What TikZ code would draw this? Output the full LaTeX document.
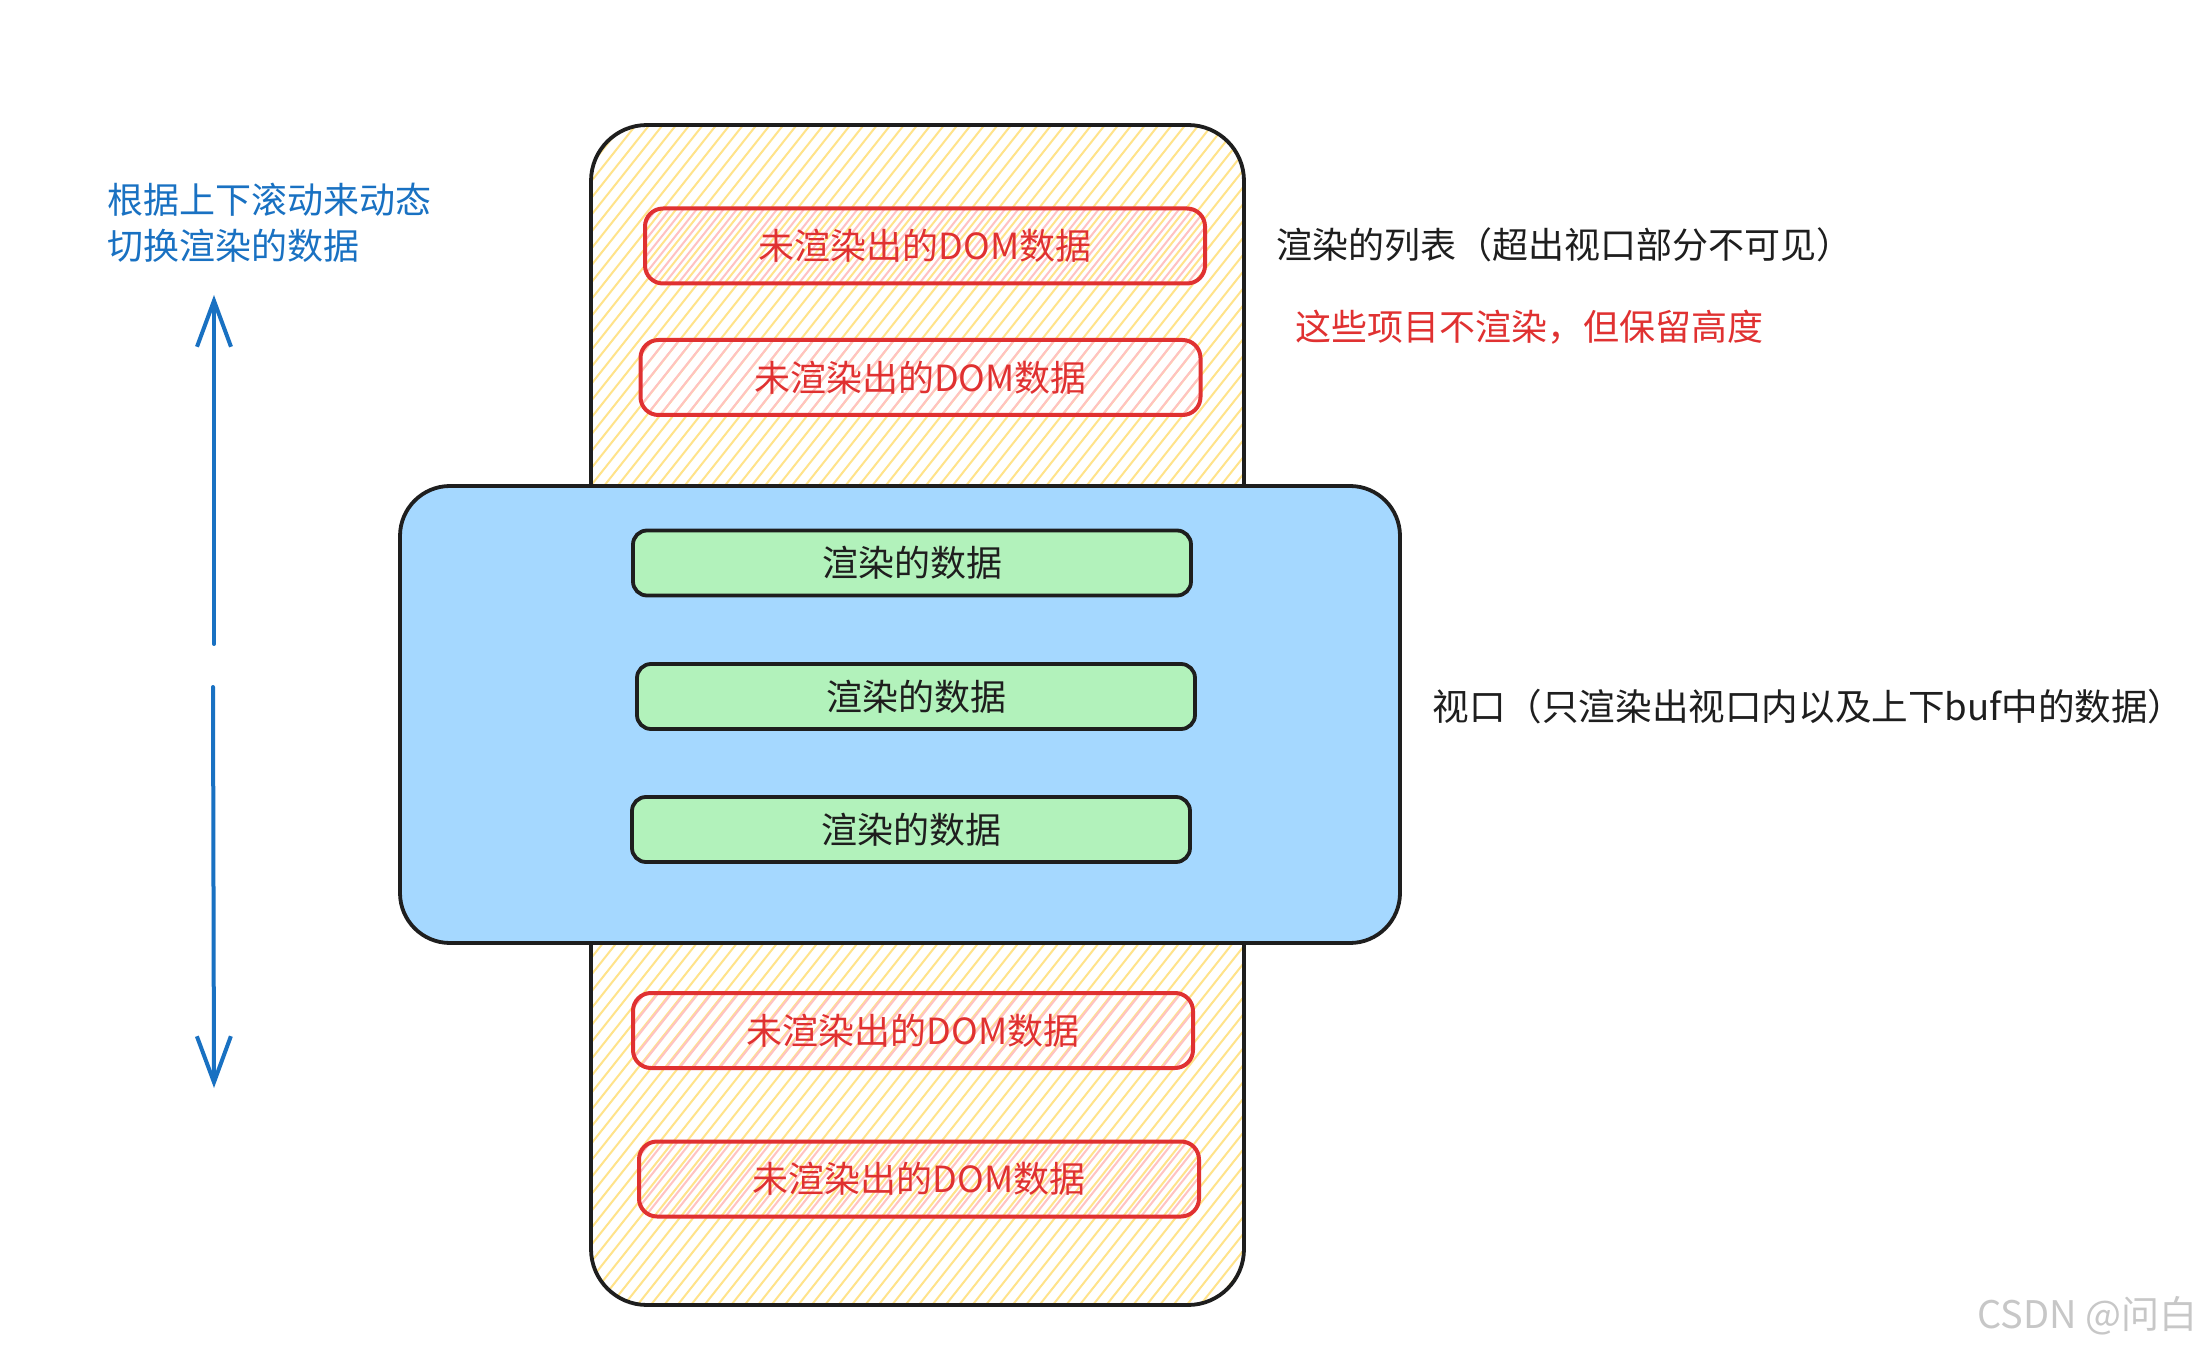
\documentclass[tikz,border=0pt]{standalone}
\usepackage{fontspec}
\setmainfont{Noto Sans CJK SC}
\usetikzlibrary{arrows.meta}
\definecolor{ink}{HTML}{1E1E1E}
\definecolor{exred}{HTML}{E03131}
\definecolor{exblue}{HTML}{1971C2}
\definecolor{bluefill}{HTML}{A5D8FF}
\definecolor{greenfill}{HTML}{B2F2BB}
\definecolor{yhatch}{HTML}{FFE38A}
\definecolor{phatch}{HTML}{FFC2C2}
\tikzset{
  hatch/.style={path picture={%
    \foreach \k in {-620,-613.3,...,420}{%
      \draw[#1,line width=1pt] ([xshift=\k pt]path picture bounding box.south west) -- ++(600pt,756pt);}}},
  txt/.style={font=\fontsize{18}{23}\selectfont},
  listbox/.style={draw=ink, line width=1.9pt, rounded corners=28pt, minimum width=326.5pt, minimum height=590pt, inner sep=0pt, hatch=yhatch},
  viewbox/.style={draw=ink, fill=bluefill, line width=1.9pt, rounded corners=25pt, minimum width=500pt, minimum height=228.5pt, inner sep=0pt},
  redbox/.style={draw=exred, line width=2pt, rounded corners=9pt, minimum width=280pt, minimum height=37.5pt, inner sep=0pt, hatch=phatch, text=exred, txt},
  greenbox/.style={draw=ink, fill=greenfill, line width=1.9pt, rounded corners=7pt, minimum width=279pt, minimum height=32.5pt, inner sep=0pt, text=ink, txt},
  lbl/.style={anchor=west, inner sep=0pt, text=ink, txt},
  arr/.style={draw=exblue, line width=2pt, line cap=round, -{Straight Barb[length=23pt,width=17pt]}}
}
\begin{document}
\begin{tikzpicture}[x=0.5pt,y=-0.5pt]
\useasboundingbox (0,0) rectangle (2206,1352);
\fill[white] (0,0) rectangle (2206,1352);
% list
\node[listbox] (list) at (917.5,715) {};
\node[redbox] (r1) at (925,246) {未渲染出的DOM数据};
\node[redbox] (r2) at (920.5,377.5) {未渲染出的DOM数据};
\node[redbox] (r3) at (913,1030.5) {未渲染出的DOM数据};
\node[redbox] (r4) at (919,1179) {未渲染出的DOM数据};
% viewport
\node[viewbox] (view) at (900,714.5) {};
\node[greenbox] (g1) at (912,563) {渲染的数据};
\node[greenbox] (g2) at (916,696.5) {渲染的数据};
\node[greenbox] (g3) at (911,829.5) {渲染的数据};
% labels
\node[lbl] (listlbl) at (1276,245) {渲染的列表（超出视口部分不可见）};
\node[lbl, text=exred] (keeplbl) at (1295,327) {这些项目不渲染，但保留高度};
\node[lbl, font=\fontsize{18.3}{22}\selectfont] (viewlbl) at (1432,707) {视口（只渲染出视口内以及上下buf中的数据）};
\node[lbl, text=exblue, align=left] (scrolllbl) at (107,223) {根据上下滚动来动态\\切换渲染的数据};
% scroll arrows
\coordinate (uptop) at (214,295);
\coordinate (upbot) at (214,644);
\coordinate (dntop) at (213,687);
\coordinate (dnbot) at (214,1088);
\draw[arr] (upbot) -- (uptop);
\draw[arr] (dntop) -- (dnbot);
% watermark
\node[anchor=east, inner sep=0pt, text=black!22, font=\fontsize{19}{20}\selectfont] (wm) at (2198,1316) {CSDN @问白};
\end{tikzpicture}
\end{document}
